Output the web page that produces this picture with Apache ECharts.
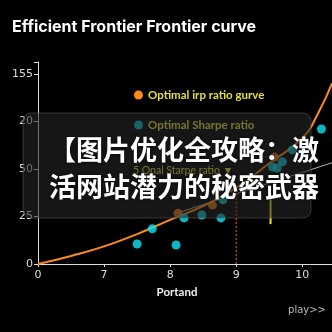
<!DOCTYPE html>
<html>
<head>
<meta charset="utf-8">
<script src="https://cdn.jsdelivr.net/npm/echarts@6/dist/echarts.min.js"></script>
<style>
  html, body { margin: 0; padding: 0; background: #000; }
  #chart { width: 332px; height: 332px; }
</style>
</head>
<body>
<div id="chart"></div>
<script>
// frontier curve
const curveX = [6, 6.5, 7, 7.5, 8, 8.5, 9, 9.5, 10, 10.25, 10.45];
const curveY = [0, 0.17, 0.37, 0.63, 0.93, 1.22, 1.6, 2.12, 2.65, 3.2, 3.8];
// sharpe points
const sharpeX = [7.5, 7.73, 8.09, 8.21, 8.77, 10.29, 8.48, 8.8, 9.85, 9.7, 9.55, 9.62];
const sharpeY = [0.42, 0.74, 0.40, 0.97, 0.97, 2.84, 1.03, 1.35, 2.4, 2.15, 2.04, 2.02];
// points on the curve
const irpX = [8.12, 8.64, 9.58];
const irpY = [1.07, 1.24, 2.25];
// thin straight line
const cmlX = [8.1, 10.45];
const cmlY = [1.07, 2.13];
// vertical markers
const redX = [9, 9];
const redY = [0, 1.5];
const yelX = [9.52, 9.52];
const yelY = [0.84, 1.45];

const yTickLabels = ['0', '25', '50', '20', '155'];
const xTickLabels = ['0', '7', '8', '9', '10'];

const zip = (xs, ys) => xs.map((x, i) => [x, ys[i]]);

var chart = echarts.init(document.getElementById('chart'));

const option = {
  backgroundColor: '#000',
  title: {
    text: 'Efficient Frontier Frontier curve',
    left: 7,
    top: 14,
    textStyle: { color: '#fff', fontSize: 16, fontWeight: 'bold', fontFamily: 'Inter' }
  },
  legend: {
    data: ['Optimal irp ratio gurve', 'Optimal Sharpe ratio'],
    orient: 'vertical',
    left: 129,
    top: 84,
    icon: 'circle',
    itemWidth: 9,
    itemHeight: 9,
    itemGap: 18,
    textStyle: { color: '#e8df3c', fontSize: 11.5, fontWeight: 'bold', fontFamily: 'Lato' }
  },
  grid: { left: 38, right: 0, top: 62, bottom: 68, containLabel: false, outerBoundsMode: 'none' },
  xAxis: {
    type: 'value',
    min: 6,
    max: 10.45,
    interval: 1,
    name: 'Portand',
    nameLocation: 'middle',
    nameGap: 22,
    nameTextStyle: { color: '#eee', fontSize: 11.5, fontWeight: 'bold', fontFamily: 'Lato', padding: [0, 16, 0, 0] },
    axisLine: { lineStyle: { color: '#ddd' } },
    axisTick: { length: 3, lineStyle: { color: '#ddd' } },
    splitLine: { show: false },
    axisLabel: {
      color: '#ddd', fontSize: 11, fontFamily: 'DejaVu Sans', margin: 6,
      formatter: function (v) {
        return Number.isInteger(v) ? (xTickLabels[v - 6] || '') : '';
      }
    }
  },
  yAxis: {
    type: 'value',
    min: 0,
    max: 4.25,
    interval: 1,
    name: 'Cmlad',
    nameLocation: 'middle',
    nameGap: 23,
    nameTextStyle: { color: '#ddd', fontSize: 10, fontFamily: 'DejaVu Sans' },
    axisLine: { show: true, lineStyle: { color: '#ddd' } },
    axisTick: { show: true, length: 4, lineStyle: { color: '#ddd' } },
    splitLine: { show: false },
    axisLabel: {
      color: '#ddd', fontSize: 11, fontFamily: 'DejaVu Sans', margin: 5,
      formatter: function (v) {
        return Number.isInteger(v) ? (yTickLabels[v] || '') : '';
      }
    }
  },
  series: [
    {
      name: 'Optimal irp ratio gurve',
      type: 'line',
      smooth: true,
      showSymbol: false,
      data: zip(curveX, curveY),
      itemStyle: { color: '#ff8a1c' },
      lineStyle: { color: '#ff8a1c', width: 2 },
      z: 3
    },
    {
      name: 'Optimal Sharpe ratio',
      type: 'scatter',
      symbolSize: 9,
      data: zip(sharpeX, sharpeY),
      itemStyle: { color: '#10e4f4' },
      z: 4
    },
    {
      name: 'irp points',
      type: 'scatter',
      symbolSize: 9,
      data: zip(irpX, irpY),
      itemStyle: { color: '#ff8a1c' },
      z: 5
    },
    {
      name: 'cml',
      type: 'line',
      showSymbol: false,
      data: zip(cmlX, cmlY),
      lineStyle: { color: 'rgba(220,220,220,0.8)', width: 1 },
      z: 2
    },
    {
      name: 'red marker',
      type: 'line',
      showSymbol: false,
      data: zip(redX, redY),
      lineStyle: { color: '#e0451c', width: 1.2, type: [2, 2] },
      z: 2
    },
    {
      name: 'yellow marker',
      type: 'line',
      showSymbol: false,
      data: zip(yelX, yelY),
      lineStyle: { color: '#f0e020', width: 2 },
      z: 2
    }
  ],
  graphic: [
    {
      type: 'text',
      left: 133,
      top: 165,
      z: 10,
      style: { text: '5 Opal Starpe ratio ▼', fill: '#e8df3c', font: '10.5px Lato' }
    },
    {
      type: 'text',
      right: 6,
      top: 305,
      z: 10,
      style: { text: 'play>>', fill: '#bbb', font: '10px "DejaVu Sans"' }
    },
    {
      type: 'rect',
      z: 50,
      shape: { x: 23, y: 113, width: 288, height: 105, r: 8 },
      style: { fill: 'rgba(38,38,38,0.58)', stroke: 'rgba(100,100,100,0.5)', lineWidth: 1 }
    },
    {
      type: 'text',
      z: 51,
      x: 49,
      y: 150,
      style: {
        text: '【图片优化全攻略：激',
        fill: '#fff',
        font: 'bold 27px "Noto Sans CJK SC"',
        textVerticalAlign: 'middle',
        textShadowColor: 'rgba(0,0,0,0.9)',
        textShadowBlur: 3
      }
    },
    {
      type: 'text',
      z: 51,
      x: 49,
      y: 187,
      style: {
        text: '活网站潜力的秘密武器',
        fill: '#fff',
        font: 'bold 27px "Noto Sans CJK SC"',
        textVerticalAlign: 'middle',
        textShadowColor: 'rgba(0,0,0,0.9)',
        textShadowBlur: 3
      }
    }
  ]
};

chart.setOption(option);
</script>
</body>
</html>
